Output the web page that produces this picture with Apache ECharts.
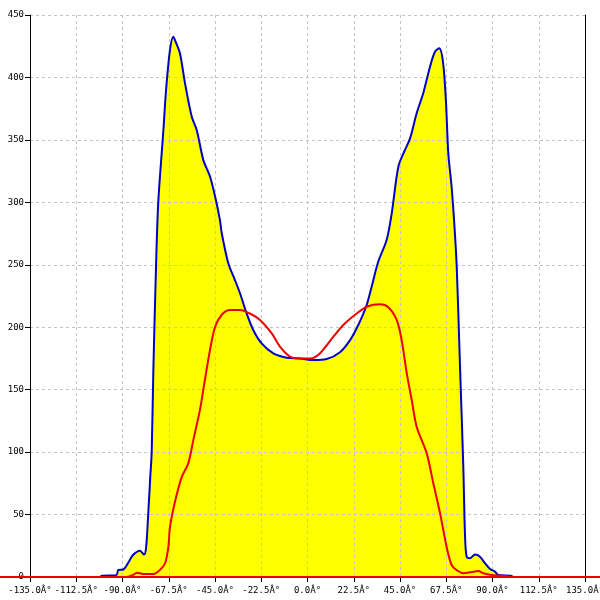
<!DOCTYPE html>
<html>
<head>
<meta charset="utf-8">
<script src="https://cdn.jsdelivr.net/npm/echarts@6/dist/echarts.min.js"></script>
<style>html,body{margin:0;padding:0;background:#fff}#c{width:600px;height:600px}</style>
</head>
<body>
<div id="c"></div>
<script>
var xTicks = {min: -135, max: 135, step: 22.5};
var yTicks = {min: 0, max: 450, step: 50};
var unitSuffix = 'Â°';
var baselineValue = 0;

var blueData = [
  [-101, 0], [-100, 1], [-93, 1.5], [-92, 5.6], [-89.6, 6], [-87, 12], [-84.9, 17.6], [-81.5, 21],
  [-79.5, 18], [-78.5, 24], [-77.5, 50], [-76.5, 80], [-75.8, 100], [-75, 165], [-73.7, 248],
  [-72.6, 300], [-70.1, 357.9], [-68.8, 390], [-66.9, 422], [-65.3, 432.6], [-64, 428], [-62, 419],
  [-59.6, 395.5], [-56.3, 368.5], [-53.9, 358], [-50.7, 334], [-47.4, 320.5], [-45, 305],
  [-42.6, 285.8], [-41.7, 275], [-38.5, 251], [-35.3, 237.8], [-32.8, 227], [-29.6, 211],
  [-26.4, 197.8], [-22.3, 187], [-16.6, 179], [-10.1, 175.6], [-3.6, 175], [2.8, 173.7],
  [9.3, 174.5], [15.8, 180], [20.7, 189.7], [24.7, 201.8], [28.8, 217.8], [31.2, 232.4],
  [34.4, 252.4], [38.5, 269.8], [41, 291.4], [44.2, 328.5], [47.4, 341.9], [49.9, 351.2],
  [53.1, 371.3], [56.3, 387.3], [59.6, 408.6], [62, 420.6], [64.1, 423.3], [66, 411.3],
  [67.4, 379.3], [68.5, 339.3], [70.1, 312.5], [71.3, 285.8], [72.6, 248.4], [74.2, 168.4],
  [75.8, 88.3], [76.6, 35], [77.4, 16.3], [79, 15], [81.5, 18], [83.9, 16.3], [86.4, 11],
  [88.8, 6.4], [91.2, 4.3], [92.8, 1.6], [99, 1], [100, 0]
];

var redData = [
  [-135, 0], [-88, 0], [-85, 1.5], [-83, 3.5], [-80, 2.4], [-75, 2.4], [-71.8, 5.6], [-69.3, 11],
  [-67.7, 24], [-66.9, 40], [-64.5, 60], [-61.2, 80], [-58, 91], [-55.5, 110], [-52.3, 134],
  [-49.9, 158], [-47.4, 182], [-45, 200], [-41.7, 210], [-37.7, 213.8], [-32.8, 213.8], [-28, 211],
  [-23.1, 205.8], [-17.4, 195], [-13.4, 184.4], [-8.5, 176.4], [-3.6, 175], [1.2, 175], [6, 179],
  [12.6, 192.4], [17.4, 201.8], [23.9, 211], [28.8, 216.4], [35.3, 218.3], [39.3, 216],
  [43.4, 205.8], [45.8, 189.7], [48.3, 163], [50.7, 141.7], [53.1, 120.3], [58, 99], [61.2, 75],
  [64.5, 51], [67.7, 24], [70.1, 9.6], [72.5, 5.6], [75.8, 3], [80.7, 4.2], [83, 4.8], [85.5, 3],
  [89.6, 1.6], [95, 1], [100, 0], [135, 0]
];

var chart = echarts.init(document.getElementById('c'), null, {renderer: 'canvas'});
var fontFam = 'DejaVu Sans Mono';
var split = {show: true, lineStyle: {color: '#c4c4c4', type: [3, 3], width: 1}};
chart.setOption({
  animation: false,
  backgroundColor: '#fff',
  grid: {left: 30, right: 15, top: 15, bottom: 23, containLabel: false, outerBoundsMode: 'none'},
  xAxis: {
    type: 'value', min: xTicks.min, max: xTicks.max, interval: xTicks.step, z: 2,
    axisLine: {show: true, onZero: false, lineStyle: {color: '#000', width: 1}},
    axisTick: {show: true, length: 5, lineStyle: {color: '#000'}},
    axisLabel: {color: '#000', fontFamily: fontFam, fontSize: 9, margin: 9, hideOverlap: false,
      formatter: function (v) { return v.toFixed(1) + unitSuffix; }},
    splitLine: split
  },
  yAxis: [{
    type: 'value', min: yTicks.min, max: yTicks.max, interval: yTicks.step, z: 2,
    axisLine: {show: true, onZero: false, lineStyle: {color: '#000', width: 1}},
    axisTick: {show: true, length: 5, lineStyle: {color: '#000'}},
    axisLabel: {color: '#000', fontFamily: fontFam, fontSize: 9, margin: 6},
    splitLine: split
  }, {
    type: 'value', min: yTicks.min, max: yTicks.max, interval: yTicks.step, position: 'right', z: 2,
    axisLine: {show: true, onZero: false, lineStyle: {color: '#000', width: 1}},
    axisTick: {show: false}, axisLabel: {show: false}, splitLine: {show: false}
  }],
  series: [{
    type: 'line', data: blueData, z: 1, symbol: 'none', smooth: 0.3,
    lineStyle: {width: 0, opacity: 0},
    areaStyle: {color: '#ffff00', opacity: 1}
  }, {
    type: 'line', data: blueData, z: 3, symbol: 'none', smooth: 0.3,
    lineStyle: {color: '#0000c8', width: 2}
  }, {
    type: 'line', data: redData, z: 4, symbol: 'none', smooth: 0.3, clip: false,
    lineStyle: {color: '#ee0000', width: 2},
    markLine: {
      silent: true, symbol: 'none', animation: false,
      label: {show: false},
      lineStyle: {color: '#ee0000', width: 2, type: 'solid'},
      data: [[{x: '0%', yAxis: baselineValue}, {x: '100%', yAxis: baselineValue}]]
    }
  }]
});
</script>
</body>
</html>
